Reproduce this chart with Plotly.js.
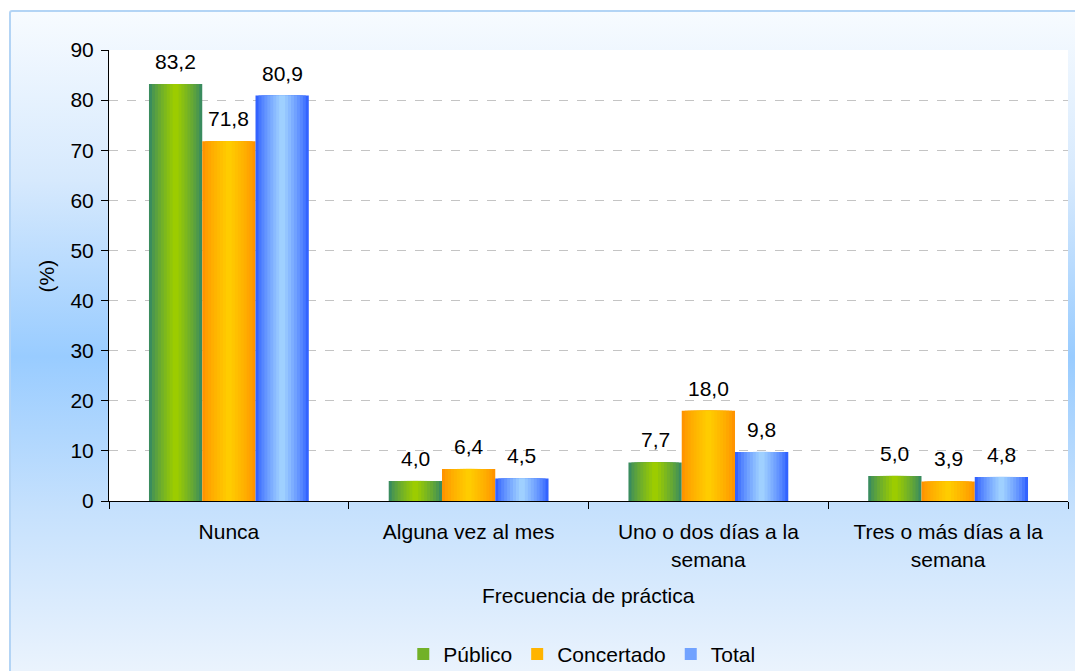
<!DOCTYPE html>
<html>
<head>
<meta charset="utf-8">
<script src="https://cdn.plot.ly/plotly-3.0.1.min.js"></script>
<style>
  html, body { margin: 0; padding: 0; background: #ffffff; }
  #bg { position: absolute; left: 9px; top: 10px; width: 1080px; height: 680px;
        border: 2px solid #b3d4f5; border-radius: 3px; box-sizing: border-box;
        background: linear-gradient(to bottom, #f7fbff 0%, #d6e9fd 25%, #99ccff 51%, #c6e1fd 74%, #eef5fd 100%); }
  #chart { position: absolute; left: 0; top: 0; width: 1075px; height: 671px; }
</style>
</head>
<body>
<div id="bg"></div>
<div id="chart"></div>
<script>
// Data
const categories = ['Nunca', 'Alguna vez al mes', 'Uno o dos días a la<br>semana', 'Tres o más días a la<br>semana'];
const seriesNames = ['Público', 'Concertado', 'Total'];
const publico = [83.2, 4.0, 7.7, 5.0];
const concertado = [71.8, 6.4, 18.0, 3.9];
const total = [80.9, 4.5, 9.8, 4.8];

// Styles (edge colour -> centre colour for cylinder-like gradient)
const gradients = [
  ['#3a8c5e', '#9ccc00'],
  ['#ff9400', '#ffcc00'],
  ['#3363ff', '#9fd0ff']
];
const seriesValues = [publico, concertado, total];
const W = 0.2222;
const N = 9;
const FONT = 'Liberation Sans, Arial, sans-serif';
const FS = 21;

function hexToRgb(h) { return [1,3,5].map(i => parseInt(h.substr(i,2),16)); }
function mix(a, b, t) {
  const A = hexToRgb(a), B = hexToRgb(b);
  return 'rgb(' + A.map((v,i) => Math.round(v + (B[i]-v)*t)).join(',') + ')';
}

const traces = [];
const annotations = [];
seriesValues.forEach((vals, s) => {
  const centre = (s - 1) * W;
  for (let k = 0; k < N; k++) {
    const frac = 1 - k / N;
    const w = W * frac;
    const t = Math.pow(k / (N - 1), 0.8);
    traces.push({
      type: 'bar',
      x: categories,
      y: vals,
      width: w,
      offset: centre - w / 2,
      name: seriesNames[s],
      legendgroup: seriesNames[s],
      showlegend: k === Math.floor(N / 2),
      marker: { color: mix(gradients[s][0], gradients[s][1], t), opacity: 1, line: { width: 0 } },
      hoverinfo: 'skip'
    });
  }
  vals.forEach((v, i) => {
    annotations.push({
      x: i + centre, y: v, xref: 'x', yref: 'y',
      text: v.toFixed(1).replace('.', ','),
      showarrow: false, yanchor: 'bottom', yshift: 9,
      font: { family: FONT, size: FS, color: '#000' }
    });
  });
});

annotations.push({
  x: 0.5, y: -0.2106, xref: 'paper', yref: 'paper',
  text: 'Frecuencia de práctica', showarrow: false, yanchor: 'middle',
  font: { family: FONT, size: FS, color: '#000' }
});
annotations.push({
  x: -0.0647, y: 0.5, xref: 'paper', yref: 'paper', textangle: -90,
  text: '(%)', showarrow: false, xanchor: 'center', yanchor: 'middle',
  font: { family: FONT, size: FS, color: '#000' }
});

const layout = {
  width: 1075, height: 671,
  margin: { l: 109, r: 7, t: 50, b: 170, autoexpand: false },
  paper_bgcolor: 'rgba(0,0,0,0)',
  plot_bgcolor: '#ffffff',
  barmode: 'overlay',
  font: { family: FONT, size: FS, color: '#000' },
  xaxis: {
    type: 'category',
    tickson: 'boundaries',
    ticks: 'outside', ticklen: 7, tickcolor: '#000', tickwidth: 1,
    showline: true, linecolor: '#000', linewidth: 1,
    showgrid: false, zeroline: false,
    ticklabelstandoff: 12,
    automargin: false,
    tickfont: { size: FS }
  },
  yaxis: {
    range: [0, 90], dtick: 10,
    ticks: 'outside', ticklen: 7, tickcolor: '#000', tickwidth: 1,
    showline: true, linecolor: '#000', linewidth: 1,
    showgrid: true, gridcolor: '#c4c4c4', griddash: 'dash', gridwidth: 1,
    zeroline: false,
    ticklabelstandoff: 3,
    automargin: false,
    tickfont: { size: FS }
  },
  legend: {
    orientation: 'h', x: 0.493, xanchor: 'center', xref: 'paper',
    y: 0.025, yanchor: 'middle', yref: 'container',
    itemwidth: 30,
    bgcolor: 'rgba(0,0,0,0)', font: { size: FS }, traceorder: 'normal'
  },
  annotations: annotations,
  showlegend: true
};

Plotly.newPlot('chart', traces, layout, { displayModeBar: false, staticPlot: true });
</script>
</body>
</html>
